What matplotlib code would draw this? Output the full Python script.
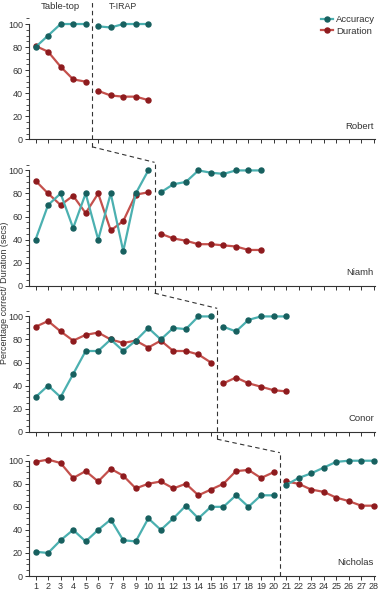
import matplotlib
matplotlib.use("Agg")
import matplotlib.pyplot as plt
from matplotlib.lines import Line2D
from matplotlib.ticker import MultipleLocator
import matplotlib.font_manager as fm

names = ["Robert", "Niamh", "Conor", "Nicholas"]
phase_split = [5.5, 10.5, 15.5, 20.5]

robert_s1 = [1, 2, 3, 4, 5]
robert_acc1 = [80, 90, 100, 100, 100]
robert_dur1 = [81, 76, 63, 52, 50]
robert_s2 = [6, 7, 8, 9, 10]
robert_acc2 = [98, 97, 100, 100, 100]
robert_dur2 = [42, 38, 37, 37, 34]

niamh_s1 = [1, 2, 3, 4, 5, 6, 7, 8, 9, 10]
niamh_acc1 = [40, 70, 80, 50, 80, 40, 80, 30, 80, 100]
niamh_dur1 = [91, 80, 70, 78, 63, 80, 48, 56, 79, 81]
niamh_s2 = [11, 12, 13, 14, 15, 16, 17, 18, 19]
niamh_acc2 = [81, 88, 90, 100, 98, 97, 100, 100, 100]
niamh_dur2 = [45, 41, 39, 36, 36, 35, 34, 31, 31]

conor_s1 = list(range(1, 16))
conor_acc1 = [30, 40, 30, 50, 70, 70, 80, 70, 79, 90, 80, 90, 89, 100, 100]
conor_dur1 = [91, 96, 87, 79, 84, 86, 80, 77, 79, 73, 79, 70, 70, 67, 60]
conor_s2 = [16, 17, 18, 19, 20, 21]
conor_acc2 = [91, 87, 97, 100, 100, 100]
conor_dur2 = [42, 47, 42, 39, 36, 35]

nich_s1 = list(range(1, 21))
nich_acc1 = [21, 20, 31, 40, 30, 40, 49, 31, 30, 50, 40, 50, 61, 50, 60, 60, 70, 60, 70, 70]
nich_dur1 = [99, 101, 98, 85, 91, 82, 93, 87, 76, 80, 82, 76, 80, 70, 75, 80, 91, 92, 85, 90]
nich_s2 = [21, 22, 23, 24, 25, 26, 27, 28]
nich_acc2 = [79, 85, 89, 94, 99, 100, 100, 100]
nich_dur2 = [82, 80, 75, 73, 68, 65, 61, 61]

data = [
    (robert_s1, robert_acc1, robert_dur1, robert_s2, robert_acc2, robert_dur2),
    (niamh_s1, niamh_acc1, niamh_dur1, niamh_s2, niamh_acc2, niamh_dur2),
    (conor_s1, conor_acc1, conor_dur1, conor_s2, conor_acc2, conor_dur2),
    (nich_s1, nich_acc1, nich_dur1, nich_s2, nich_acc2, nich_dur2),
]
xticks = list(range(1, 29))

avail = {f.name for f in fm.fontManager.ttflist}
fam = ["Liberation Sans Narrow", "DejaVu Sans"] if "Liberation Sans Narrow" in avail else ["Liberation Sans", "DejaVu Sans"]
plt.rcParams["font.family"] = fam

acc_line = "#4bb0b0"
acc_mark = "#17605f"
dur_line = "#c4504c"
dur_mark = "#8e1b1e"
txt = "#333333"
dash = (0, (4, 3))

fig = plt.figure(figsize=(3.81, 5.92), dpi=100)
left = 29.3 / 381
width = (375 - 29.3) / 381
height = 124.5 / 592
bottoms = [1 - 139.3 / 592, 1 - 285.7 / 592, 1 - 431.7 / 592, 1 - 576 / 592]

axes = []
for i, (nm, d) in enumerate(zip(names, data)):
    ax = fig.add_axes([left, bottoms[i], width, height])
    axes.append(ax)
    s1, a1, du1, s2, a2, du2 = d
    kw = dict(lw=1.6, marker="o", ms=3.6, clip_on=False)
    ax.plot(s1, a1, color=acc_line, mfc=acc_mark, mec=acc_mark, label="Accuracy", zorder=3, **kw)
    ax.plot(s2, a2, color=acc_line, mfc=acc_mark, mec=acc_mark, zorder=3, **kw)
    ax.plot(s1, du1, color=dur_line, mfc=dur_mark, mec=dur_mark, label="Duration", zorder=2, **kw)
    ax.plot(s2, du2, color=dur_line, mfc=dur_mark, mec=dur_mark, zorder=2, **kw)
    ax.set_xlim(0.5, 28.1)
    ax.set_ylim(0, 108)
    ax.spines["top"].set_visible(False)
    ax.spines["right"].set_visible(False)
    ax.spines["left"].set_bounds(0, 100)
    for sp in ("left", "bottom"):
        ax.spines[sp].set_color(txt)
        ax.spines[sp].set_linewidth(0.8)
    ax.set_yticks([0, 20, 40, 60, 80, 100])
    ax.yaxis.set_minor_locator(MultipleLocator(5))
    ax.set_xticks(xticks)
    ax.tick_params(axis="both", which="major", length=3, width=0.7, colors=txt, labelsize=6.5, pad=1.5)
    ax.tick_params(axis="y", which="minor", length=2, width=0.6, colors=txt)
    if i < 3:
        ax.set_xticklabels([])
    ax.patch.set_alpha(0)
    ax.text(0.997, 0.07, nm, transform=ax.transAxes, ha="right", va="bottom", fontsize=6.8, color=txt)
    x = phase_split[i]
    top = 121 if i == 0 else 107
    bot = 0 if i == 3 else -6.5
    ax.plot([x, x], [bot, top], color=txt, lw=0.8, ls=dash, clip_on=False, zorder=4)

# diagonal connectors between panels, via the axes' data transforms
inv = fig.transFigure.inverted()
for i in range(3):
    pa = inv.transform(axes[i].transData.transform((phase_split[i], -6.5)))
    pb = inv.transform(axes[i + 1].transData.transform((phase_split[i + 1], 107)))
    fig.add_artist(Line2D([pa[0], pb[0]], [pa[1], pb[1]], transform=fig.transFigure,
                          color=txt, lw=0.8, ls=dash))

axes[0].text(3, 115, "Table-top", ha="center", va="center", fontsize=6.8, color=txt)
axes[0].text(8, 115, "T-IRAP", ha="center", va="center", fontsize=6.3, color=txt)

leg = axes[0].legend(loc="upper right", bbox_to_anchor=(1.02, 1.05), frameon=False, fontsize=6.8,
                     handlelength=1.2, handletextpad=0.4, labelspacing=0.25, borderpad=0.2)
for t in leg.get_texts():
    t.set_color(txt)

fig.text(0.012, 0.505, "Percentage correct/ Duration (secs)", rotation=90, ha="center", va="center",
         fontsize=6.5, color=txt)

fig.savefig("out.png", dpi=100)
